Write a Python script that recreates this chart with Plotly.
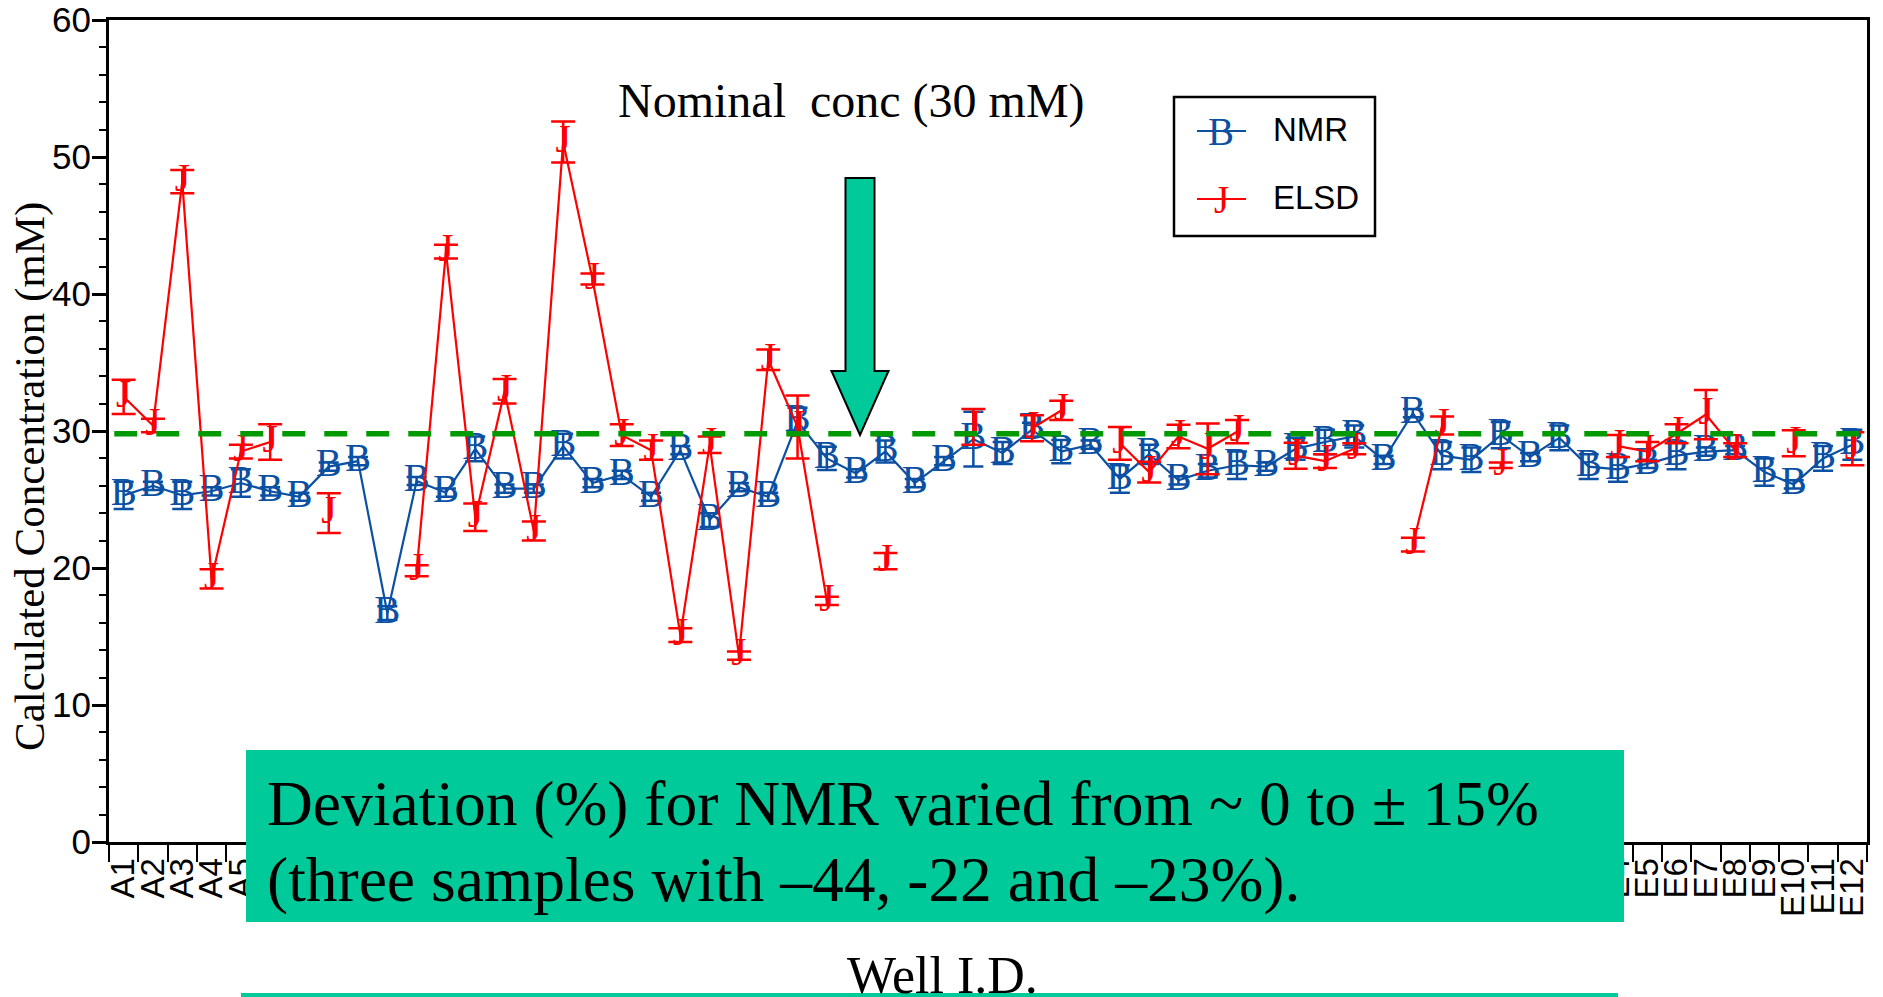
import plotly.graph_objects as go

# ---------------- data ----------------
wells = [f"{r}{c}" for r in "ABCDE" for c in range(1, 13)]

nmr = [25.3, 26.0, 25.3, 25.6, 26.2, 25.6, 25.2, 27.4, 27.8, 16.7, 26.35, 25.5,
       28.7, 25.8, 25.8, 28.9, 26.2, 26.8, 25.2, 28.6, 23.5, 25.9, 25.2, 30.7,
       28.0, 26.9, 28.5, 26.2, 27.8, 29.4, 28.4, 30.1, 28.5, 29.0, 26.5, 28.3,
       26.4, 27.1, 27.5, 27.4, 28.7, 29.2, 29.6, 27.9, 31.3, 28.2, 27.9, 29.7,
       28.1, 29.5, 27.4, 27.2, 27.6, 28.2, 28.5, 28.6, 27.0, 26.1, 28.0, 29.0]
nmr_err = [1.0, 0.3, 1.0, 0.3, 1.0, 0.3, 0.3, 0.3, 0.3, 0.5, 0.3, 0.3,
           0.9, 0.3, 0.3, 0.9, 0.3, 0.3, 0.3, 0.3, 0.5, 0.3, 0.3, 1.0,
           0.85, 0.3, 0.8, 0.3, 0.3, 2.0, 0.8, 0.5, 0.85, 0.3, 1.0, 0.7,
           0.3, 0.5, 1.0, 0.3, 0.8, 0.9, 0.8, 0.3, 0.3, 1.0, 0.9, 0.95,
           0.3, 0.9, 0.9, 0.9, 0.3, 1.0, 0.3, 0.3, 1.0, 0.3, 0.9, 1.1]

elsd = [32.5, 30.4, 48.2, 19.2, 28.5, 29.2, None, 24.0, None, None, 19.8, 43.1,
        23.7, 32.9, 22.7, 51.1, 41.1, 29.7, 28.6, 15.1, 29.0, 13.6, 35.2, 30.3,
        17.6, None, 20.5, None, None, 30.3, None, 30.2, 31.5, None, 29.1, 27.0,
        29.6, 28.7, 29.95, None, 28.2, 27.8, 28.7, None, 21.7, 30.4, None, 27.5,
        None, None, None, 28.9, 28.5, 29.8, 31.2, 28.6, None, 29.1, None, 28.7]
elsd_err = [1.25, 0.5, 0.85, 0.7, 0.5, 1.3, 0, 1.45, 0, 0, 0.4, 0.5,
            1.0, 0.9, 0.7, 1.5, 0.4, 0.8, 0.7, 0.5, 0.6, 0.3, 0.75, 2.3,
            0.3, 0, 0.6, 0, 0, 1.3, 0, 0.95, 0.7, 0, 1.2, 0.75,
            0.85, 1.85, 0.85, 0, 0.95, 0.5, 0.4, 0, 0.5, 0.65, 0, 0.2,
            0, 0, 0, 0.8, 0.7, 0.7, 1.8, 0.5, 0, 0.95, 0, 1.2]

nominal = 29.8

BLUE = "#0B50A2"
RED = "#FF0000"
DGREEN = "#009A00"
TEAL = "#00C99A"
SERIF = "Liberation Serif"
SANS = "Liberation Sans Narrow, Liberation Sans"

# ---------------- geometry helpers ----------------
FW, FH = 1883, 997
L, R, T, B = 109, 1867, 20, 842
PW, PH = R - L, B - T


def px(x):
    return (x - L) / PW


def py(y):
    return (B - y) / PH


fig = go.Figure()

fig.add_trace(go.Scatter(
    x=wells, y=nmr, mode="lines+text", text="B", name="NMR",
    textposition="middle center",
    textfont=dict(family=SERIF, size=39, color=BLUE),
    line=dict(color=BLUE, width=2.2),
    error_y=dict(type="data", array=nmr_err, color=BLUE, thickness=2.5, width=10),
    cliponaxis=False, showlegend=False,
))
fig.add_trace(go.Scatter(
    x=wells, y=elsd, mode="lines+text", text="J", name="ELSD",
    textposition="middle center",
    textfont=dict(family=SERIF, size=39, color=RED),
    line=dict(color=RED, width=2.2),
    error_y=dict(type="data", array=elsd_err, color=RED, thickness=2.5, width=12),
    connectgaps=False, cliponaxis=False, showlegend=False,
))

shapes = []
# nominal dashed line
shapes.append(dict(type="line", xref="paper", yref="y", x0=0.003, x1=0.997,
                   y0=nominal, y1=nominal, layer="above",
                   line=dict(color=DGREEN, width=5.5, dash="23px,19px")))
# arrow
pts = [(845.5, 178), (874.5, 178), (874.5, 371), (888.5, 371), (860, 435),
       (831.5, 371), (845.5, 371)]
path = "M " + " L ".join(f"{px(x):.5f},{py(y):.5f}" for x, y in pts) + " Z"
shapes.append(dict(type="path", xref="paper", yref="paper", path=path,
                   fillcolor=TEAL, line=dict(color="black", width=2), layer="above"))
# legend box
shapes.append(dict(type="rect", xref="paper", yref="paper",
                   x0=px(1174), x1=px(1375), y0=py(97), y1=py(236),
                   fillcolor="white", line=dict(color="black", width=2.5), layer="above"))
for yy, col in [(131, BLUE), (199, RED)]:
    shapes.append(dict(type="line", xref="paper", yref="paper",
                       x0=px(1197), x1=px(1246), y0=py(yy), y1=py(yy),
                       line=dict(color=col, width=2.2), layer="above"))
# green text boxes
shapes.append(dict(type="rect", xref="paper", yref="paper",
                   x0=px(246), x1=px(1624), y0=py(750), y1=py(922),
                   fillcolor=TEAL, line=dict(width=0), layer="above"))
shapes.append(dict(type="rect", xref="paper", yref="paper",
                   x0=px(241), x1=px(1618), y0=py(993), y1=py(1015),
                   fillcolor=TEAL, line=dict(width=0), layer="above"))

annotations = []


def ann(text, x, y, size, family=SERIF, xanchor="center", yanchor="middle",
        color="black", angle=0):
    annotations.append(dict(text=text, x=px(x), y=py(y), xref="paper", yref="paper",
                            xanchor=xanchor, yanchor=yanchor, showarrow=False,
                            textangle=angle,
                            font=dict(family=family, size=size, color=color)))


ann("Nominal  conc (30 mM)", 851, 101, 48)
ann("B", 1221, 131, 39, color=BLUE)
ann("J", 1221, 199, 39, color=RED)
ann("NMR", 1271, 130, 33, family=SANS, xanchor="left")
ann("ELSD", 1271, 198, 33, family=SANS, xanchor="left")
ann("Calculated Concentration (mM)", 30, 477, 43, angle=-90)
ann("Well I.D.", 942, 976, 52)
ann("Deviation (%) for NMR varied from ~ 0 to ± 15%", 265, 803, 63.5, xanchor="left")
ann("(three samples with –44, -22 and –23%).", 265, 879, 63.5, xanchor="left")

fig.update_layout(
    width=FW, height=FH,
    margin=dict(l=L, r=FW - R, t=T, b=FH - B, pad=0, autoexpand=False),
    paper_bgcolor="white", plot_bgcolor="white",
    shapes=shapes, annotations=annotations,
    showlegend=False,
)
fig.update_xaxes(
    type="category", range=[-0.5, 59.5], tickson="boundaries",
    tickmode="array", tickvals=wells, ticktext=wells,
    ticks="outside", ticklen=17, tickwidth=2, tickcolor="black",
    tickangle=-90, tickfont=dict(family=SANS, size=33, color="black"),
    showline=True, linewidth=3, linecolor="black", mirror=True,
    showgrid=False, zeroline=False, automargin=False,
)
fig.update_yaxes(
    range=[0, 60], dtick=10, tick0=0,
    ticks="outside", ticklen=14, tickwidth=2.5, tickcolor="black",
    tickfont=dict(family=SANS, size=35, color="black"),
    ticklabelstandoff=-6,
    minor=dict(dtick=2, ticks="outside", ticklen=7, tickwidth=2, tickcolor="black"),
    showline=True, linewidth=3, linecolor="black", mirror=True,
    showgrid=False, zeroline=False, automargin=False,
)

fig.write_html("out.html", config={"displayModeBar": False},
               post_script="document.body.style.margin='0px';")
